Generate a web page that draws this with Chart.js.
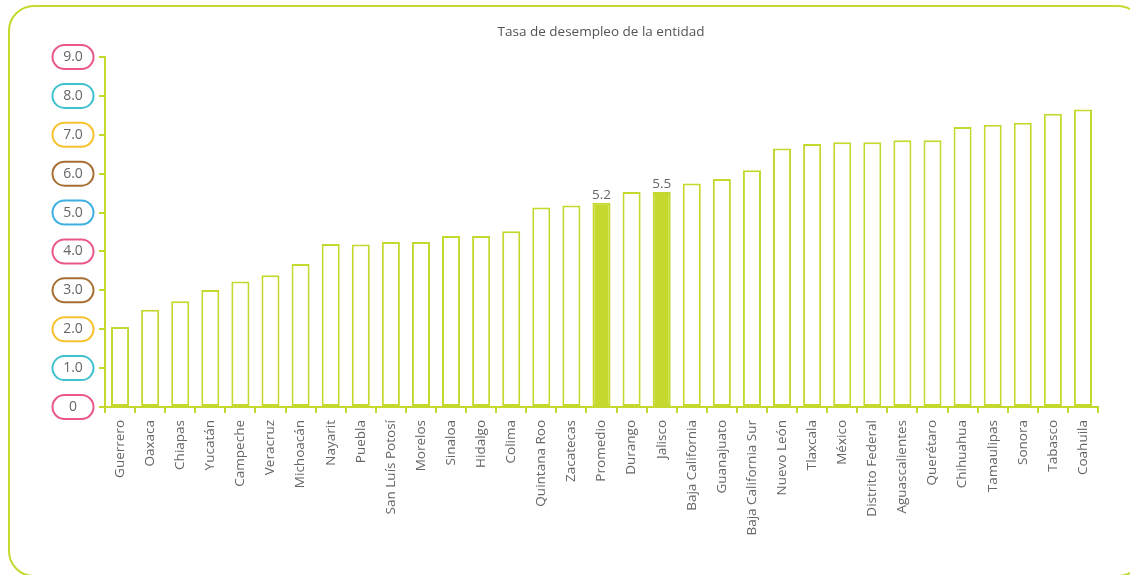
<!DOCTYPE html>
<html>
<head>
<meta charset="utf-8">
<title>Tasa de desempleo de la entidad</title>
<script src="https://cdn.jsdelivr.net/npm/chart.js@4.4.0/dist/chart.umd.min.js"></script>
<style>
  body { margin: 0; background: #fff; overflow: hidden; }
  #frame {
    position: absolute; left: 8px; top: 5px;
    width: 1132px; height: 568px;
    border: 2px solid #c5d82e; border-radius: 26px;
  }
  #wrap { position: absolute; left: 0; top: 0; width: 1130px; height: 575px; }
</style>
</head>
<body>
<div id="frame"></div>
<div id="wrap"><canvas id="chart"></canvas></div>
<script>
// estados ordenados por tasa de desempleo
var estados = ["Guerrero", "Oaxaca", "Chiapas", "Yucatán", "Campeche", "Veracruz", "Michoacán",
  "Nayarit", "Puebla", "San Luís Potosí", "Morelos", "Sinaloa", "Hidalgo", "Colima",
  "Quintana Roo", "Zacatecas", "Promedio", "Durango", "Jalisco", "Baja California",
  "Guanajuato", "Baja California Sur", "Nuevo León", "Tlaxcala", "México", "Distrito Federal",
  "Aguascalientes", "Querétaro", "Chihuahua", "Tamaulipas", "Sonora", "Tabasco", "Coahuila"];
var tasa = [2.06, 2.50, 2.72, 3.01, 3.23, 3.39, 3.68,
  4.19, 4.18, 4.24, 4.24, 4.40, 4.40, 4.52,
  5.13, 5.18, 5.25, 5.53, 5.53, 5.75,
  5.86, 6.09, 6.65, 6.76, 6.81, 6.81,
  6.86, 6.86, 7.20, 7.26, 7.31, 7.54, 7.65];
var resaltados = ["Promedio", "Jalisco"];
var etiquetas = {"Promedio": "5.2", "Jalisco": "5.5"};
var yTicks = [0, 1, 2, 3, 4, 5, 6, 7, 8, 9];
var yTickLabels = ["0", "1.0", "2.0", "3.0", "4.0", "5.0", "6.0", "7.0", "8.0", "9.0"];
var pillColors = ["#e9578b", "#3fc1cf", "#f8c22f", "#a86f33", "#e9578b", "#3cafe3", "#a86f33", "#f8c22f", "#3fc1cf", "#e9578b"];

var lima = "#c5d82e";
var gris = "#666";
var fuente = "'Open Sans', sans-serif";

var fondos = estados.map(function(e) { return resaltados.indexOf(e) >= 0 ? lima : "#fff"; });

// pastillas de colores para el eje y, titulo y etiquetas de valor
var extras = {
  id: "extras",
  afterDraw: function(chart) {
    var c = chart.ctx;
    var y = chart.scales.y;
    c.save();
    c.font = "14px " + fuente;
    c.textAlign = "center";
    c.textBaseline = "middle";
    for (var i = 0; i < yTicks.length; i++) {
      var py = y.getPixelForValue(yTicks[i]);
      c.beginPath();
      c.roundRect(52.5, py - 12, 41, 24, 12);
      c.lineWidth = 2;
      c.strokeStyle = pillColors[i];
      c.stroke();
      c.fillStyle = gris;
      c.fillText(yTickLabels[i], 73, py);
    }
    // titulo
    c.font = "13.5px " + fuente;
    c.fillStyle = "#555";
    c.fillText("Tasa de desempleo de la entidad", 601, 32);
    // valores resaltados
    var meta = chart.getDatasetMeta(0);
    c.textBaseline = "bottom";
    c.fillStyle = gris;
    estados.forEach(function(e, i) {
      if (etiquetas[e]) {
        var bar = meta.data[i];
        c.fillText(etiquetas[e], bar.x, bar.y - 1);
      }
    });
    c.restore();
  }
};

new Chart(document.getElementById("chart"), {
  type: "bar",
  data: {
    labels: estados,
    datasets: [{
      data: tasa,
      backgroundColor: fondos,
      borderColor: lima,
      borderWidth: 2,
      borderSkipped: false,
      barPercentage: 0.6,
      categoryPercentage: 1
    }]
  },
  options: {
    responsive: true,
    maintainAspectRatio: false,
    animation: false,
    layout: { padding: { left: 10, right: 32, top: 57, bottom: 0 } },
    plugins: { legend: { display: false }, tooltip: { enabled: false }, title: { display: false } },
    scales: {
      x: {
        grid: { display: true, drawOnChartArea: false, color: lima, lineWidth: 2, tickLength: 6, offset: true },
        border: { color: lima, width: 2 },
        ticks: { color: gris, font: { family: fuente, size: 13.5 }, minRotation: 90, maxRotation: 90, autoSkip: false, padding: 7 },
        afterFit: function(s) { s.height = 168; }
      },
      y: {
        min: 0, max: 9,
        grid: { display: true, drawOnChartArea: false, color: lima, lineWidth: 2, tickLength: 6 },
        border: { color: lima, width: 2 },
        ticks: { display: false, stepSize: 1 },
        afterFit: function(s) { s.width = 95; }
      }
    }
  },
  plugins: [extras]
});
</script>
</body>
</html>
